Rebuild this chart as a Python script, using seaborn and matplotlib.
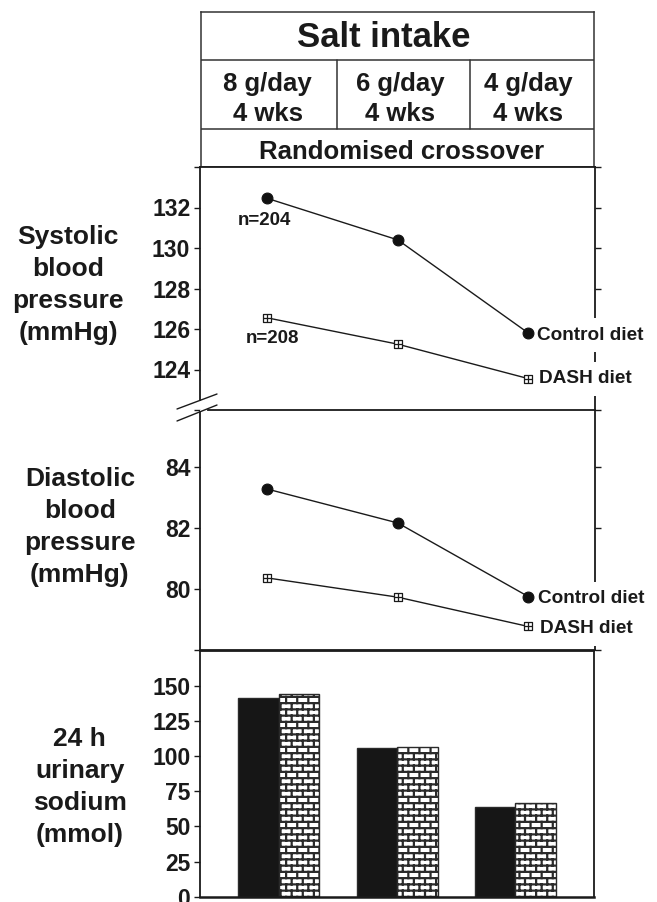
import numpy as np
import pandas as pd
import matplotlib
matplotlib.use("Agg")
import matplotlib.pyplot as plt
import seaborn as sns
from matplotlib import hatch as mhatch
from matplotlib.path import Path
from matplotlib.lines import Line2D

# ---------------- data ----------------
salt_levels = ["8 g/day", "6 g/day", "4 g/day"]
durations = ["4 wks", "4 wks", "4 wks"]
diets = ["Control diet", "DASH diet"]
sbp_control = [132.45, 130.4, 125.8]
sbp_dash = [126.55, 125.25, 123.55]
dbp_control = [83.27, 82.16, 79.75]
dbp_dash = [80.36, 79.73, 78.77]
sodium_control = [141.0, 105.5, 64.0]
sodium_dash = [143.8, 106.2, 66.6]
n_control = 204
n_dash = 208
sbp_ticks = [122, 124, 126, 128, 130, 132, 134]
sbp_labels = ["", "124", "126", "128", "130", "132", ""]
dbp_ticks = [78, 80, 82, 84]
dbp_labels = ["", "80", "82", "84"]
sodium_ticks = [0, 25, 50, 75, 100, 125, 150]

# ---------------- brick hatch ----------------
class BrickHatch(mhatch.HatchPatternBase):
    rows = 16
    cols = 9

    def __init__(self, hatch, density):
        r, c = self.rows, self.cols
        self.num_vertices = (2 * r + 2 * r * c + 2 * c) if hatch else 0

    def set_vertices_and_codes(self, vertices, codes):
        r, c = self.rows, self.cols
        k = 0
        for i in range(r):
            y0 = (i + 0.5) / r
            vertices[k] = (0.0, y0); vertices[k + 1] = (1.0, y0)
            codes[k] = Path.MOVETO; codes[k + 1] = Path.LINETO
            k += 2
        for i in range(r):
            a = (i + 0.5) / r
            b = (i + 1.5) / r
            off = 0.5 * (i % 2)
            for j in range(c):
                x = (j + off + 0.25) / c
                if b <= 1.0:
                    vertices[k] = (x, a); vertices[k + 1] = (x, b)
                    codes[k] = Path.MOVETO; codes[k + 1] = Path.LINETO
                    k += 2
                else:
                    vertices[k] = (x, a); vertices[k + 1] = (x, 1.0)
                    vertices[k + 2] = (x, 0.0); vertices[k + 3] = (x, b - 1.0)
                    codes[k] = Path.MOVETO; codes[k + 1] = Path.LINETO
                    codes[k + 2] = Path.MOVETO; codes[k + 3] = Path.LINETO
                    k += 4

mhatch._hatch_types = [BrickHatch]

# ---------------- style ----------------
sns.set_style("ticks")
ink = "#1a1a1a"
plt.rcParams.update({
    "font.family": ["Liberation Sans", "DejaVu Sans"],
    "font.weight": "bold",
    "axes.labelweight": "bold",
    "text.color": ink,
    "axes.labelcolor": ink,
    "xtick.color": ink,
    "ytick.color": ink,
    "axes.edgecolor": ink,
    "hatch.linewidth": 1.6,
    "hatch.color": "#2a2a2a",
})

W, H = 657, 902
fig = plt.figure(figsize=(W / 100, H / 100), dpi=100)

def box(l, t, r, b):
    return [l / W, 1 - b / H, (r - l) / W, (b - t) / H]

ax_h = fig.add_axes(box(201, 12, 594, 167))
ax1 = fig.add_axes(box(200, 167, 595, 410))
ax2 = fig.add_axes(box(200, 410, 595, 650))
ax3 = fig.add_axes(box(200, 651, 594, 896.7))

# ---------------- header ----------------
ax_h.set_xlim(0, 1); ax_h.set_ylim(0, 1)
ax_h.set_xticks([]); ax_h.set_yticks([])
for s in ax_h.spines.values():
    s.set_linewidth(1.1); s.set_color("#333333")
ax_h.axhline(0.690, color="#333333", lw=1.1)
ax_h.axhline(0.245, color="#333333", lw=1.1)
for xv in (0.346, 0.684):
    ax_h.axvline(xv, ymin=0.245, ymax=0.690, color="#333333", lw=1.1)
ax_h.text(0.465, 0.833, "Salt intake", ha="center", va="center", fontsize=25, fontweight="bold")
for xc, lvl, dur in zip((0.170, 0.506, 0.832), salt_levels, durations):
    ax_h.text(xc, 0.437, f"{lvl}\n{dur}", ha="center", va="center", fontsize=18.5,
              fontweight="bold", linespacing=1.3)
ax_h.text(0.511, 0.098, "Randomised crossover", ha="center", va="center", fontsize=18.5, fontweight="bold")

# ---------------- line panels ----------------
pos = np.arange(len(salt_levels))
boxplus = Path(
    [(-1, -1), (1, -1), (1, 1), (-1, 1), (-1, -1), (0, -1), (0, 1), (-1, 0), (1, 0)],
    [Path.MOVETO, Path.LINETO, Path.LINETO, Path.LINETO, Path.CLOSEPOLY,
     Path.MOVETO, Path.LINETO, Path.MOVETO, Path.LINETO],
)

def line_panel(ax, yc, yd, ticks, labels, ylim, lab_offsets):
    sns.lineplot(x=pos, y=yc, ax=ax, color=ink, lw=1.0, marker="o", markersize=7.8,
                 mfc="#111111", mec="#111111", mew=0.8, zorder=4)
    sns.lineplot(x=pos, y=yd, ax=ax, color=ink, lw=1.0, marker=boxplus, markersize=6.3,
                 mfc="white", mec=ink, mew=0.9, zorder=4)
    ax.set_xlim(-0.516, 2.511)
    ax.set_ylim(*ylim)
    ax.set_xticks([])
    ax.set_yticks(ticks, labels)
    ax.tick_params(axis="y", which="both", direction="out", length=4, width=1.0,
                   left=True, right=True, labelright=False, labelsize=16.5, pad=3)
    for lab in ax.get_yticklabels():
        lab.set_fontweight("bold")
    for s in ax.spines.values():
        s.set_linewidth(1.3)
    for name, yv, off in zip(diets, (yc[-1], yd[-1]), lab_offsets):
        ax.annotate(name, xy=(pos[-1], yv), xytext=off, textcoords="offset pixels",
                    ha="left", va="center", fontsize=13.7, fontweight="bold",
                    annotation_clip=False, zorder=3,
                    bbox=dict(boxstyle="square,pad=0.45", fc="white", ec="none"))

line_panel(ax1, sbp_control, sbp_dash, sbp_ticks, sbp_labels, (122, 134),
           [(9, -2), (11, 0)])
line_panel(ax2, dbp_control, dbp_dash, dbp_ticks, dbp_labels, (78, 85.86),
           [(10, -2), (12, -2)])

ax1.spines["bottom"].set_visible(False)
ax1.spines["left"].set_bounds(122.5, 134)
ax2.spines["left"].set_bounds(78, 85.8)
ax2.spines["top"].set_bounds(-0.455, 2.511)

ax1.annotate(f"n={n_control}", xy=(pos[0], sbp_control[0]), xytext=(-3, -22),
             textcoords="offset pixels", ha="center", va="center", fontsize=13.5, fontweight="bold")
ax1.annotate(f"n={n_dash}", xy=(pos[0], sbp_dash[0]), xytext=(5, -21),
             textcoords="offset pixels", ha="center", va="center", fontsize=13.5, fontweight="bold")

# axis break marks
for (y0, y1) in ((409, 394), (421, 405)):
    fig.add_artist(Line2D([177 / W, 217 / W], [1 - y0 / H, 1 - y1 / H],
                          transform=fig.transFigure, color=ink, lw=1.0))

# ---------------- bar panel ----------------
df_na = pd.DataFrame({
    "salt": salt_levels * 2,
    "diet": [diets[0]] * len(salt_levels) + [diets[1]] * len(salt_levels),
    "sodium": sodium_control + sodium_dash,
})
sns.barplot(data=df_na, x="salt", y="sodium", hue="diet", order=salt_levels, hue_order=diets,
            palette={diets[0]: "#161616", diets[1]: "white"}, saturation=1, width=0.685,
            errorbar=None, edgecolor="#2a2a2a", linewidth=1.0, legend=False, ax=ax3)
for bar in ax3.containers[1]:
    bar.set_hatch("+")
ax3.set_xlim(-0.668, 2.664)
ax3.set_ylim(0, 174.6)
ax3.set_xticks([])
ax3.set_xlabel("")
ax3.set_yticks(sodium_ticks, [str(t) for t in sodium_ticks])
ax3.tick_params(axis="y", direction="out", length=4, width=1.0, left=True, right=False,
                labelsize=16.5, pad=3)
for lab in ax3.get_yticklabels():
    lab.set_fontweight("bold")
for s in ax3.spines.values():
    s.set_visible(True)
    s.set_linewidth(1.3)
ax3.spines["bottom"].set_linewidth(1.8)

# ---------------- side labels ----------------
for ax, txt, xy in (
    (ax1, "Systolic\nblood\npressure\n(mmHg)", (-0.334, 0.514)),
    (ax2, "Diastolic\nblood\npressure\n(mmHg)", (-0.304, 0.5125)),
    (ax3, "24 h\nurinary\nsodium\n(mmol)", (-0.305, 0.4465)),
):
    ax.set_ylabel(txt, rotation=0, ha="center", va="center", fontsize=19,
                  fontweight="bold", linespacing=1.42)
    ax.yaxis.set_label_coords(*xy)

fig.savefig("out.png", dpi=100)
